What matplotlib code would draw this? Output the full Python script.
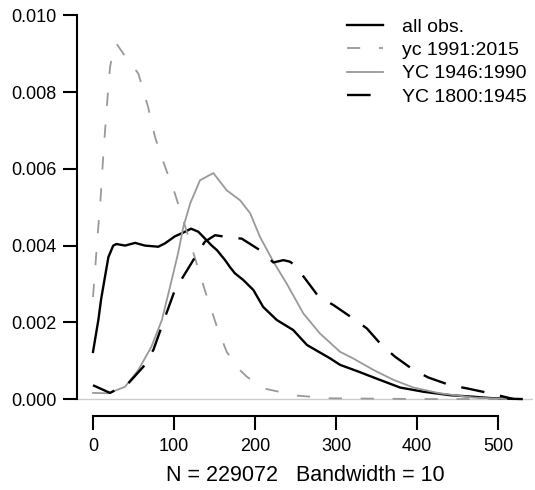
import numpy as np
import matplotlib.pyplot as plt

plt.rcParams['font.family'] = ['Liberation Sans', 'DejaVu Sans']
plt.rcParams['lines.scale_dashes'] = False

# density estimates
x_all = [0, 6.6, 10, 14.8, 19, 25, 29, 39.5, 52, 64, 80.6, 89, 101, 113.6, 121,
         130, 146.5, 153, 163, 169, 175, 185.6, 198, 210, 226.8, 247, 264,
         292.6, 305, 327, 354, 379, 408, 441, 469.5, 494, 529]
y_all = [0.00123, 0.00206, 0.0026, 0.00319, 0.0037, 0.0040, 0.00404, 0.0040,
         0.00407, 0.0040, 0.00397, 0.00406, 0.00424, 0.00436, 0.00444, 0.00436,
         0.0040, 0.00388, 0.00362, 0.00344, 0.00328, 0.0031, 0.00284, 0.0024,
         0.00206, 0.0018, 0.00141, 0.00106, 0.00089, 0.00072, 0.0005, 0.0003,
         0.00019, 0.0001, 0.00006, 0.00002, 0.0]

x_91 = [0, 6.6, 9.5, 11.5, 14, 17, 21, 25, 29, 37.5, 56, 68, 76.5, 89, 101, 124,
        138, 153, 165, 179, 190, 210, 251.5, 292.6, 350, 400, 450, 500]
y_91 = [0.00266, 0.0045, 0.00527, 0.00596, 0.00674, 0.00761, 0.00865, 0.0091,
        0.00926, 0.0090, 0.00848, 0.00761, 0.00683, 0.00605, 0.00536, 0.0038,
        0.00284, 0.00188, 0.00123, 0.0008, 0.00058, 0.00028, 0.00009, 0.00002,
        0.00001, 0.0, 0.0, 0.0]

x_46 = [0, 19, 39.5, 56, 72, 85, 95, 105, 111.5, 120, 132, 148.5, 165, 181.5,
        194, 206, 222.6, 239, 259.6, 280, 305, 321, 346, 370.8, 395.5, 428,
        469.5, 510]
y_46 = [0.00016, 0.00015, 0.00032, 0.00076, 0.00136, 0.00206, 0.00292, 0.0038,
        0.00449, 0.0051, 0.0057, 0.00589, 0.00544, 0.00518, 0.00484, 0.00423,
        0.00358, 0.00301, 0.00223, 0.00171, 0.00123, 0.00106, 0.00076, 0.0005,
        0.0003, 0.00015, 0.00004, 0.0]

x_18 = [0, 21, 43.6, 62, 74.5, 89, 101, 113.6, 126, 138, 150.6, 163, 183.6, 206,
        222.6, 235, 243, 249, 261.7, 278, 296.7, 321, 338, 356, 373, 395.5, 414,
        441, 461, 490, 519]
y_18 = [0.00036, 0.00016, 0.00041, 0.00084, 0.00128, 0.00214, 0.00284, 0.00327,
        0.0037, 0.0041, 0.00427, 0.00423, 0.00418, 0.00388, 0.00356, 0.00362,
        0.00358, 0.00349, 0.00314, 0.00268, 0.00245, 0.0021, 0.00184, 0.00141,
        0.0011, 0.00076, 0.00056, 0.00036, 0.00028, 0.00015, 0.0]

labels = ['all obs.', 'yc 1991:2015', 'YC 1946:1990', 'YC 1800:1945']
grey = '#999999'

fig = plt.figure(figsize=(5.35, 4.9), dpi=100)
ax = fig.add_axes([77 / 535, (490 - 414.4) / 490, 456 / 535, 414.4 / 490])

ax.axhline(0, color='#cccccc', lw=1, zorder=0)
ax.plot(x_all, y_all, color='black', lw=1.7, label=labels[0])
ax.plot(x_91, y_91, color=grey, lw=1.3, dashes=(9.5, 13.5), label=labels[1])
ax.plot(x_46, y_46, color=grey, lw=1.3, label=labels[2])
ax.plot(x_18, y_18, color='black', lw=1.7, dashes=(17, 11.5), label=labels[3])

ax.set_xlim(-19.75, 543)
ax.set_ylim(-0.0004, 0.0104)
ax.set_xticks([0, 100, 200, 300, 400, 500])
ax.set_yticks([0, 0.002, 0.004, 0.006, 0.008, 0.010])
ax.set_yticklabels(['0.000', '0.002', '0.004', '0.006', '0.008', '0.010'])
ax.spines['left'].set_bounds(0, 0.010)
ax.spines['bottom'].set_bounds(0, 500)
ax.spines['bottom'].set_position(('outward', 1))
for s in ['top', 'right']:
    ax.spines[s].set_visible(False)
for s in ['left', 'bottom']:
    ax.spines[s].set_linewidth(1.5)
ax.tick_params(length=10, width=1.5, labelsize=13)
ax.tick_params(axis='y', pad=4.5)
ax.tick_params(axis='x', pad=6)
ax.set_xlabel('N = 229072   Bandwidth = 10', fontsize=15.5, labelpad=7)

ax.legend(loc='upper left', bbox_to_anchor=(347 / 535, 1 - 18 / 490),
          bbox_transform=fig.transFigure, frameon=False, fontsize=14,
          handlelength=1.85, handletextpad=1.0, labelspacing=0.3,
          borderpad=0, borderaxespad=0)

fig.savefig('out.png', dpi=100)
